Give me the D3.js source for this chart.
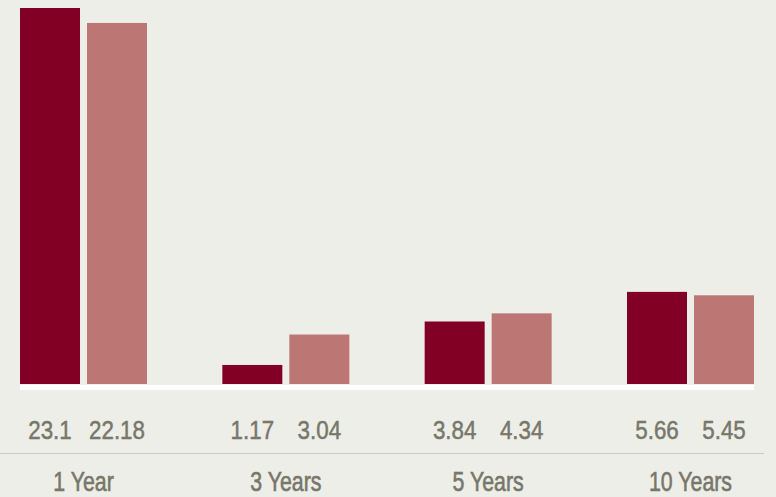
<!DOCTYPE html>
<html>
<head>
<meta charset="utf-8">
<script src="https://cdn.jsdelivr.net/npm/d3@7"></script>
<style>
  html, body { margin: 0; padding: 0; background: #eeeee8; }
  svg { display: block; }
  text { font-family: "Liberation Sans", Arial, sans-serif; fill: #77776a; }
</style>
</head>
<body>
<svg width="776" height="497"></svg>
<script>
// data
var periods = ["1 Year", "3 Years", "5 Years", "10 Years"];
var series = ["fund", "benchmark"];
var fundValues = [23.1, 1.17, 3.84, 5.66];
var benchValues = [22.18, 3.04, 4.34, 5.45];
var valueLabels = [["23.1", "22.18"], ["1.17", "3.04"], ["3.84", "4.34"], ["5.66", "5.45"]];

var colors = { fund: "#820024", benchmark: "#bc7674" };

var svg = d3.select("svg"),
  width = +svg.attr("width"),
  height = +svg.attr("height");

// squeeze the font a bit, the original uses a condensed face
var narrowVal = 0.86,
  narrowCat = 0.79;

var rows = periods.map(function(p, i) {
  return { period: p, values: [
    { key: "fund", value: fundValues[i], label: valueLabels[i][0] },
    { key: "benchmark", value: benchValues[i], label: valueLabels[i][1] }
  ]};
});

// scales
var x0 = d3.scaleBand()
  .domain(periods)
  .range([20, 754])
  .paddingInner(0.3723)
  .paddingOuter(0);

var x1 = d3.scaleBand()
  .domain(series)
  .range([0, x0.bandwidth()])
  .paddingInner(0.1045);

var y = d3.scaleLinear()
  .domain([0, d3.max(fundValues.concat(benchValues))])
  .range([384, 8]);

// bars
var groups = svg.append("g")
  .selectAll("g")
  .data(rows)
  .enter()
  .append("g")
    .attr("transform", function(d) { return "translate(" + x0(d.period) + ",0)"; });

groups.selectAll("rect")
  .data(function(d) { return d.values; })
  .enter()
  .append("rect")
    .attr("x", function(d) { return x1(d.key); })
    .attr("y", function(d) { return y(d.value); })
    .attr("width", x1.bandwidth())
    .attr("height", function(d) { return y(0) - y(d.value); })
    .attr("fill", function(d) { return colors[d.key]; });

// white baseline
svg.append("rect")
  .attr("x", x0.range()[0])
  .attr("y", y(0) + 1)
  .attr("width", x0.range()[1] - x0.range()[0])
  .attr("height", 5)
  .attr("fill", "#ffffff");

// value labels
groups.selectAll("text")
  .data(function(d) { return d.values; })
  .enter()
  .append("text")
    .attr("transform", function(d) {
      return "translate(" + (x1(d.key) + x1.bandwidth() / 2) + ",439) scale(" + narrowVal + ",1)";
    })
    .attr("text-anchor", "middle")
    .style("font-size", "26px")
    .style("stroke", "#77776a")
    .style("stroke-width", "0.5px")
    .text(function(d) { return d.label; });

// separator
svg.append("line")
  .attr("x1", 0)
  .attr("x2", 764)
  .attr("y1", 453.5)
  .attr("y2", 453.5)
  .attr("stroke", "#cbcbc3")
  .attr("stroke-width", 1);

// category labels
svg.append("g")
  .selectAll("text")
  .data(periods)
  .enter()
  .append("text")
    .attr("transform", function(d) {
      return "translate(" + (x0(d) + x0.bandwidth() / 2) + ",491) scale(" + narrowCat + ",1)";
    })
    .attr("text-anchor", "middle")
    .style("font-size", "27px")
    .style("stroke", "#77776a")
    .style("stroke-width", "0.6px")
    .text(function(d) { return d; });
</script>
</body>
</html>
